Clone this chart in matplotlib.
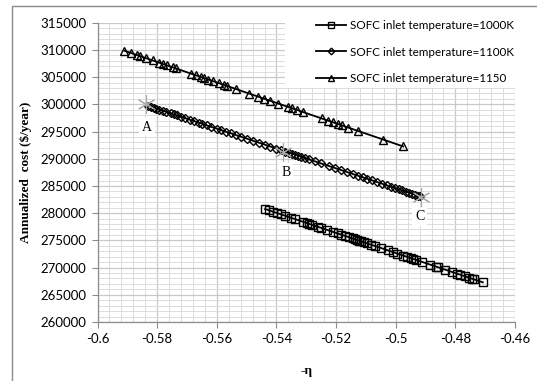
import matplotlib
matplotlib.use("Agg")
import matplotlib.pyplot as plt
from matplotlib.patches import Rectangle
from matplotlib.ticker import MultipleLocator

# -eta values and annualized cost for each SOFC inlet temperature
eta_1000 = [-0.5438, -0.5425, -0.5412, -0.5398, -0.5385, -0.5370, -0.5352, -0.5338,
            -0.5310, -0.5298, -0.5290, -0.5282, -0.5262, -0.5250, -0.5232, -0.5210,
            -0.5195, -0.5183, -0.5170, -0.5158, -0.5145, -0.5138, -0.5130, -0.5122,
            -0.5115, -0.5105, -0.5095, -0.5082, -0.5068, -0.5050, -0.5025, -0.5010,
            -0.4995, -0.4975, -0.4962, -0.4950, -0.4942, -0.4932, -0.4912, -0.4885,
            -0.4865, -0.4858, -0.4835, -0.4812, -0.4795, -0.4785, -0.4768, -0.4755,
            -0.4745, -0.4738, -0.4708]
cost_1000 = [280760, 280520, 280280, 280020, 279780, 279505, 279170, 278915,
             278400, 278175, 278030, 277880, 277510, 277290, 276960, 276550,
             276275, 276055, 275815, 275590, 275350, 275220, 275075, 274925,
             274800, 274610, 274430, 274190, 273930, 273600, 273140, 272860,
             272585, 272215, 271975, 271750, 271605, 271420, 271050, 270550,
             270185, 270055, 269630, 269205, 268890, 268705, 268395, 268150,
             267970, 267840, 267285]

eta_1100 = [-0.5832, -0.5822, -0.5812, -0.5803, -0.5793, -0.5782, -0.5770, -0.5755,
            -0.5745, -0.5735, -0.5720, -0.5705, -0.5690, -0.5675, -0.5660, -0.5648,
            -0.5632, -0.5618, -0.5600, -0.5585, -0.5570, -0.5552, -0.5535, -0.5518,
            -0.5500, -0.5480, -0.5460, -0.5440, -0.5420, -0.5400, -0.5385, -0.5370,
            -0.5358, -0.5348, -0.5338, -0.5328, -0.5318, -0.5305, -0.5290, -0.5272,
            -0.5250, -0.5225, -0.5205, -0.5185, -0.5165, -0.5145, -0.5125, -0.5110,
            -0.5095, -0.5080, -0.5062, -0.5045, -0.5030, -0.5015, -0.5002, -0.4990,
            -0.4978, -0.4965, -0.4955, -0.4945, -0.4935, -0.4925, -0.4918]
cost_1100 = [299760, 299575, 299395, 299230, 299045, 298845, 298625, 298355,
             298170, 297990, 297715, 297440, 297165, 296895, 296620, 296400,
             296110, 295855, 295525, 295250, 294975, 294650, 294340, 294030,
             293700, 293335, 292970, 292605, 292240, 291875, 291600, 291325,
             291110, 290925, 290745, 290560, 290380, 290140, 289865, 289540,
             289135, 288680, 288315, 287950, 287585, 287220, 286855, 286580,
             286310, 286035, 285705, 285395, 285120, 284850, 284610, 284390,
             284175, 283935, 283755, 283570, 283390, 283205, 283080]

eta_1150 = [-0.5910, -0.5888, -0.5869, -0.5857, -0.5838, -0.5815, -0.5793, -0.5779,
            -0.5768, -0.5748, -0.5737, -0.5686, -0.5670, -0.5653, -0.5642, -0.5628,
            -0.5612, -0.5592, -0.5576, -0.5567, -0.5537, -0.5492, -0.5462, -0.5442,
            -0.5422, -0.5394, -0.5360, -0.5349, -0.5332, -0.5310, -0.5248, -0.5226,
            -0.5209, -0.5192, -0.5181, -0.5159, -0.5125, -0.5042, -0.4975]
cost_1150 = [309850, 309435, 309080, 308855, 308495, 308065, 307650, 307385,
             307180, 306805, 306595, 305635, 305335, 305015, 304810, 304545,
             304245, 303870, 303565, 303400, 302835, 301985, 301425, 301045,
             300670, 300145, 299505, 299300, 298980, 298565, 297400, 296985,
             296665, 296345, 296140, 295725, 295085, 293525, 292260]

# marked points A, B, C
point_names = ["A", "B", "C"]
point_eta = [-0.5837, -0.5377, -0.4915]
point_cost = [300000, 291300, 283000]
label_eta = [-0.5834, -0.5368, -0.4919]
label_cost = [295800, 287550, 279300]

x_ticks = [-0.6, -0.58, -0.56, -0.54, -0.52, -0.5, -0.48, -0.46]
x_tick_labels = ["-0.6", "-0.58", "-0.56", "-0.54", "-0.52", "-0.5", "-0.48", "-0.46"]
y_ticks = list(range(260000, 315001, 5000))

fig = plt.figure(figsize=(5.37, 3.81), dpi=100)
ax = fig.add_axes([0.1816, 0.1549, 0.7775, 0.7855])

# chart area border (Excel style)
fig.patches.append(Rectangle((12 / 537, -0.1), 1.2, 1.0 - 6 / 381 + 0.1,
                             transform=fig.transFigure, fill=False,
                             edgecolor="#8c8c8c", linewidth=1.0))

ax.set_xlim(-0.6, -0.46)
ax.set_ylim(260000, 315000)
ax.set_xticks(x_ticks)
ax.set_xticklabels(x_tick_labels, fontfamily="Lato")
ax.set_yticks(y_ticks)
ax.set_yticklabels([str(v) for v in y_ticks], fontfamily="Lato")
ax.xaxis.set_minor_locator(MultipleLocator(0.004))
ax.yaxis.set_minor_locator(MultipleLocator(1000))
ax.set_axisbelow(True)
ax.grid(which="major", color="#c8c8c8", linewidth=0.9)
ax.grid(which="minor", color="#dcdcdc", linewidth=0.7)

for s in ["top", "right"]:
    ax.spines[s].set_visible(False)
for s in ["left", "bottom"]:
    ax.spines[s].set_color("#8c8c8c")
    ax.spines[s].set_linewidth(0.9)

ax.tick_params(which="major", length=4, color="#8c8c8c", labelsize=9.5, pad=4)
ax.tick_params(which="minor", length=0)

# white panel behind the legend
ax.add_patch(Rectangle((0.449, 0.782), 0.6, 0.3, transform=ax.transAxes,
                       facecolor="white", edgecolor="none", zorder=1.5, clip_on=False))

l1, = ax.plot(eta_1000, cost_1000, color="black", lw=1.3, marker="s", ms=6,
              mfc="none", mec="black", mew=1.0, zorder=3,
              label="SOFC inlet temperature=1000K")
l2, = ax.plot(eta_1100, cost_1100, color="black", lw=1.3, marker="D", ms=4.5,
              mfc="none", mec="black", mew=1.0, zorder=3,
              label="SOFC inlet temperature=1100K")
l3, = ax.plot(eta_1150, cost_1150, color="black", lw=1.3, marker="^", ms=6,
              mfc="none", mec="black", mew=1.0, zorder=3,
              label="SOFC inlet temperature=1150")

ax.plot(point_eta, point_cost, linestyle="none", marker=(6, 2, 0), ms=13,
        color="#a8a8a8", mew=0.8, zorder=4)
for name, xe, yc in zip(point_names, label_eta, label_cost):
    ax.text(xe, yc, name, ha="center", va="center", fontsize=10,
            fontfamily="Liberation Serif", zorder=5,
            bbox=dict(facecolor="white", edgecolor="none", pad=2))

leg = ax.legend(handles=[l1, l2, l3], loc="upper left",
                bbox_to_anchor=(316 / 537, 1 - 20 / 381), bbox_transform=fig.transFigure,
                frameon=False, prop={"family": "Lato", "size": 8.4},
                handlelength=2.6, handletextpad=0.3, labelspacing=1.33,
                borderaxespad=0, borderpad=0, markerscale=0.75)

ax.set_xlabel("-η", fontfamily="Liberation Serif", fontweight="bold", fontsize=9.5,
              labelpad=14)
ax.set_ylabel("Annualized  cost ($/year)", fontfamily="Liberation Serif",
              fontweight="bold", fontsize=9.5, labelpad=6)

fig.savefig("out.png", dpi=100)
